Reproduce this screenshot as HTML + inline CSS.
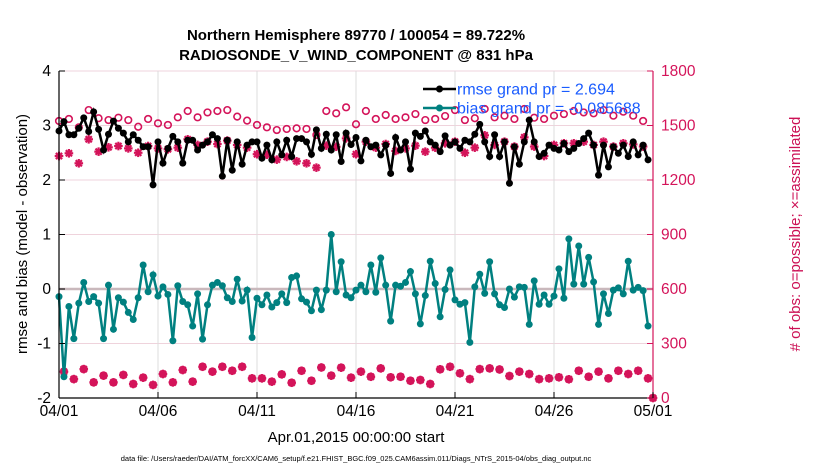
<!DOCTYPE html>
<html><head><meta charset="utf-8"><style>
body{margin:0;background:#fff;}
svg{display:block;font-family:"Liberation Sans",sans-serif;}
</style></head><body>
<svg id="chart" width="830" height="470" viewBox="0 0 830 470" xmlns="http://www.w3.org/2000/svg">
<text x="356" y="40" text-anchor="middle" font-size="15" font-weight="bold">Northern Hemisphere 89770 / 100054 = 89.722%</text>
<text x="356" y="60" text-anchor="middle" font-size="15" font-weight="bold">RADIOSONDE_V_WIND_COMPONENT @ 831 hPa</text>
<g id="grid"></g>
<g id="marks"></g>
<g id="axes"></g>
<text x="356" y="442" text-anchor="middle" font-size="15">Apr.01,2015 00:00:00 start</text>
<text transform="translate(27,234) rotate(-90)" text-anchor="middle" font-size="15">rmse and bias (model - observation)</text>
<text transform="translate(800,234) rotate(-90)" text-anchor="middle" font-size="15" fill="#cc1155"># of obs: o=possible; ×=assimilated</text>
<text x="356" y="461" text-anchor="middle" font-size="7.5">data file: /Users/raeder/DAI/ATM_forcXX/CAM6_setup/f.e21.FHIST_BGC.f09_025.CAM6assim.011/Diags_NTrS_2015-04/obs_diag_output.nc</text>
<g id="legend"></g>
</svg>
<script>
const rmse=[2.9,3.07,2.83,2.83,2.95,3.14,2.89,3.25,2.93,2.55,2.84,3.08,2.95,2.86,2.7,2.83,2.73,2.61,2.61,1.91,2.7,2.31,2.58,2.8,2.7,2.31,2.73,2.73,2.55,2.64,2.7,2.83,2.76,2.07,2.73,2.18,2.7,2.29,2.64,2.7,
2.7,2.4,2.64,2.37,2.7,2.46,2.73,2.43,2.76,2.76,2.7,2.47,2.92,2.58,2.84,2.55,2.83,2.34,2.86,2.65,2.78,2.35,2.73,2.61,2.64,2.46,2.64,2.12,2.78,2.55,2.7,2.2,2.86,2.8,2.9,2.7,2.64,2.52,2.81,2.64,
2.7,2.58,2.73,2.7,2.84,3.02,2.7,2.43,2.83,2.43,2.7,1.94,2.61,2.29,2.7,3.1,2.7,2.43,2.49,2.64,2.58,2.55,2.67,2.52,2.58,2.67,2.76,2.86,2.64,2.09,2.64,2.24,2.61,2.49,2.64,2.43,2.7,2.46,2.64,2.37];
const bias=[-0.14,-1.61,-0.32,-0.91,-0.26,0.12,-0.23,-0.14,-0.26,-0.91,0.07,-0.74,-0.16,-0.24,-0.43,-0.56,-0.16,0.44,-0.05,0.26,-0.13,0.04,-0.1,-0.95,0.06,-0.23,-0.29,-0.68,-0.09,-0.92,-0.29,0.07,0.12,0.06,-0.16,-0.23,0.18,-0.22,-0.02,-0.89,-0.17,-0.29,
-0.11,-0.33,-0.25,-0.09,-0.25,0.21,0.24,-0.18,-0.24,-0.4,-0.02,-0.38,-0.02,1.0,-0.05,0.5,-0.11,-0.16,-0.02,0.07,-0.05,0.44,-0.06,0.57,0.07,-0.59,0.07,0.05,0.12,0.32,-0.09,-0.64,-0.12,0.51,0.1,-0.51,-0.01,0.35,-0.2,-0.28,
-0.25,-0.98,0.04,0.27,-0.08,0.5,-0.09,-0.29,-0.34,0,-0.15,0.04,0.03,-0.65,0.15,-0.28,-0.11,-0.28,-0.13,0.37,-0.17,0.92,0.09,0.79,0.09,0.58,0.13,-0.65,-0.09,-0.45,-0.02,0.02,-0.09,0.51,-0.02,0.03,-0.03,-0.68];
const possibleHigh=[1525,1536,1490,1585,1540,1530,1543,1530,1493,1536,1512,1503,1545,1580,1545,1572,1580,1585,1549,1527,1503,1490,1475,1481,1484,1481,1448,1580,1567,1600,1507,1580,1536,1558,1536,1545,1563,1530,1536,1552,1585,1530,1540,1591,1545,1554,1536,1591,1543,1536,1554,1563,1580,1572,1567,1585,1554,1576,1554,1525];
const assimHigh=[1332,1347,1292,1424,1356,1380,1387,1374,1350,1387,1374,1369,1378,1424,1393,1411,1398,1417,1393,1378,1342,1339,1312,1327,1303,1292,1268,1389,1383,1429,1342,1411,1378,1398,1360,1374,1389,1356,1378,1402,1411,1350,1378,1446,1393,1411,1384,1435,1384,1332,1393,1402,1402,1411,1393,1411,1384,1402,1396,1384];
const countLow=[145,104,159,86,123,86,127,77,112,72,132,86,154,90,172,145,172,150,172,108,108,90,130,84,150,95,168,123,167,112,145,117,163,114,117,95,99,77,158,172,136,104,159,163,157,121,145,132,104,108,114,103,150,117,145,108,150,132,150,108];
const yTicks=[-2,-1,0,1,2,3,4];
const rTicks=[0,300,600,900,1200,1500,1800];
const xTickLabels=["04/01","04/06","04/11","04/16","04/21","04/26","05/01"];
const xTickDays=[0,5,10,15,20,25,30];

const NS="http://www.w3.org/2000/svg";
const L=59,R=653,T=71,B=398;
const xs=i=>L+(R-L)*i/120;
const xd=d=>L+(R-L)*d/30;
const yl=v=>B-(v+2)/6*(B-T);
const yr=v=>B-v/1800*(B-T);
function mk(tag,attrs,parent){const e=document.createElementNS(NS,tag);for(const k in attrs)e.setAttribute(k,attrs[k]);parent.appendChild(e);return e;}
const grid=document.getElementById('grid'),marks=document.getElementById('marks'),axes=document.getElementById('axes'),legend=document.getElementById('legend');
const RED="#d4145a",TEAL="#008080";

rTicks.forEach(v=>{const l=mk('line',{x1:L,x2:R,y1:yr(v),y2:yr(v),stroke:'#efd3dc','stroke-width':1},grid);

});
xTickDays.forEach(d=>{const l=mk('line',{x1:xd(d),x2:xd(d),y1:T,y2:B,stroke:'#dcdcdc','stroke-width':1},grid);

});
const zl=mk('line',{x1:L,x2:R,y1:yl(0),y2:yl(0),stroke:'#c9b8bc','stroke-width':2.5},grid);



function star(cx,cy,name){const g=mk('g',{stroke:RED,'stroke-width':2.2},marks);


const s=4.3;[[0,s],[s,0],[s*0.72,s*0.72],[s*0.72,-s*0.72]].forEach(([a,b])=>mk('line',{x1:cx-a,y1:cy-b,x2:cx+a,y2:cy+b},g));}
function ring(cx,cy,name){const c=mk('circle',{cx:cx,cy:cy,r:3.3,fill:'none',stroke:RED,'stroke-width':1.6},marks);

}

possibleHigh.forEach((v,k)=>ring(xs(2*k),yr(v),'possible-obs-point'));
assimHigh.forEach((v,k)=>star(xs(2*k),yr(v),'assimilated-obs-point'));
countLow.forEach((v,k)=>{ring(xs(2*k+1),yr(v),'possible-obs-point');star(xs(2*k+1),yr(v),'assimilated-obs-point');});
ring(xs(120),yr(0),'possible-obs-point');star(xs(120),yr(0),'assimilated-obs-point');

function series(arr,color,name){const p=mk('polyline',{points:arr.map((v,i)=>xs(i)+','+yl(v)).join(' '),fill:'none',stroke:color,'stroke-width':2.5},marks);


arr.forEach((v,i)=>{const c=mk('circle',{cx:xs(i),cy:yl(v),r:3.5,fill:color},marks);

});}
series(bias,TEAL,'bias');
series(rmse,'#000','rmse');

[[89,'#000','rmse grand pr = 2.694','legend-rmse'],[108,TEAL,'bias grand pr = -0.085688','legend-bias']].forEach(([y,c,txt,nm])=>{
mk('line',{x1:423,x2:456,y1:y,y2:y,stroke:c,'stroke-width':2.5},legend);
mk('circle',{cx:439.5,cy:y,r:3.5,fill:c},legend);
const t=mk('text',{x:457,y:y+5.5,'font-size':16,fill:'#1a5cff'},legend);t.textContent=txt;

});

mk('line',{x1:L,x2:L,y1:T,y2:B,stroke:'#000','stroke-width':1.2},axes);
mk('line',{x1:L,x2:R,y1:B,y2:B,stroke:'#000','stroke-width':1.2},axes);
mk('line',{x1:R,x2:R,y1:T,y2:B,stroke:RED,'stroke-width':1.2},axes);
yTicks.forEach(v=>{mk('line',{x1:L,x2:L+6,y1:yl(v),y2:yl(v),stroke:'#000'},axes);
const t=mk('text',{x:L-8,y:yl(v)+5,'text-anchor':'end','font-size':15.5},axes);t.textContent=v;

});
rTicks.forEach(v=>{mk('line',{x1:R-6,x2:R,y1:yr(v),y2:yr(v),stroke:RED},axes);
const t=mk('text',{x:R+8,y:yr(v)+5,'font-size':15.5,fill:RED},axes);t.textContent=v;

});
xTickDays.forEach((d,i)=>{mk('line',{x1:xd(d),x2:xd(d),y1:B,y2:B-6,stroke:'#000'},axes);
const t=mk('text',{x:xd(d),y:B+18,'text-anchor':'middle','font-size':15.5},axes);t.textContent=xTickLabels[i];

});
</script>
</body></html>
